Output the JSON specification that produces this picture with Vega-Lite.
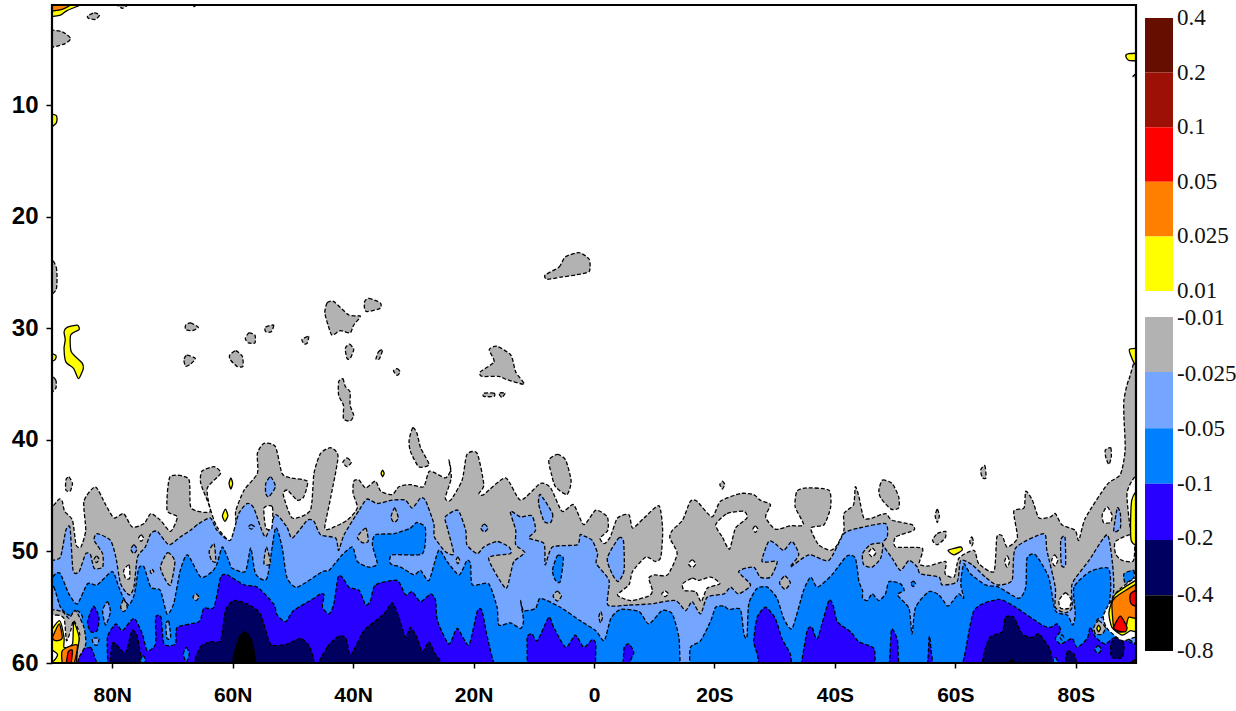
{"$schema":"https://vega.github.io/schema/vega-lite/v6.json","background":"white","padding":{"left":11,"top":3,"right":0,"bottom":0},"spacing":7,
"datasets":{
"frame":[{"a":90,"b":-90,"c":1,"d":60}],
"bar":[{"k":"brown","y0":0,"y1":1},{"k":"darkred","y0":1,"y1":2},{"k":"red","y0":2,"y1":3},{"k":"orange","y0":3,"y1":4},{"k":"yellow","y0":4,"y1":5},{"k":"gray","y0":5.476,"y1":6.48},{"k":"light","y0":6.48,"y1":7.51},{"k":"blue","y0":7.51,"y1":8.53},{"k":"violet","y0":8.53,"y1":9.56},{"k":"navy","y0":9.56,"y1":10.57},{"k":"black","y0":10.57,"y1":11.59}],
"barlabels":[{"pos":0,"t":"0.4"},{"pos":1,"t":"0.2"},{"pos":2,"t":"0.1"},{"pos":3,"t":"0.05"},{"pos":4,"t":"0.025"},{"pos":5,"t":"0.01"},{"pos":5.5,"t":"-0.01"},{"pos":6.52,"t":"-0.025"},{"pos":7.53,"t":"-0.05"},{"pos":8.53,"t":"-0.1"},{"pos":9.53,"t":"-0.2"},{"pos":10.57,"t":"-0.4"},{"pos":11.59,"t":"-0.8"}],
"neg":[
{"k":"gray","p":1,"lat":91,"lev":60.5},{"k":"gray","p":1,"lat":91,"lev":46.5},{"k":"gray","p":1,"lat":90.1,"lev":46.1},{"k":"gray","p":1,"lat":88.8,"lev":45.3},{"k":"gray","p":1,"lat":88.3,"lev":45.5},{"k":"gray","p":1,"lat":87.9,"lev":46.4},{"k":"gray","p":1,"lat":86.6,"lev":47.2},{"k":"gray","p":1,"lat":86.0,"lev":49.4},{"k":"gray","p":1,"lat":85.2,"lev":49.6},{"k":"gray","p":1,"lat":84.4,"lev":48.1},{"k":"gray","p":1,"lat":84.7,"lev":45.5},{"k":"gray","p":1,"lat":82.8,"lev":44.2},{"k":"gray","p":1,"lat":81.1,"lev":45.8},{"k":"gray","p":1,"lat":79.7,"lev":47.0},{"k":"gray","p":1,"lat":78.1,"lev":46.6},{"k":"gray","p":1,"lat":76.7,"lev":47.8},{"k":"gray","p":1,"lat":74.7,"lev":47.5},{"k":"gray","p":1,"lat":73.6,"lev":46.6},{"k":"gray","p":1,"lat":72.0,"lev":47.2},{"k":"gray","p":1,"lat":70.3,"lev":48.2},{"k":"gray","p":1,"lat":69.2,"lev":46.9},{"k":"gray","p":1,"lat":70.9,"lev":46.3},{"k":"gray","p":1,"lat":70.4,"lev":43.3},{"k":"gray","p":1,"lat":67.3,"lev":43.5},{"k":"gray","p":1,"lat":66.9,"lev":46.1},{"k":"gray","p":1,"lat":63.7,"lev":46.4},{"k":"gray","p":1,"lat":65.3,"lev":43.9},{"k":"gray","p":1,"lat":65.1,"lev":42.8},{"k":"gray","p":1,"lat":63.1,"lev":42.4},{"k":"gray","p":1,"lat":62.0,"lev":43.0},{"k":"gray","p":1,"lat":64.2,"lev":44.3},{"k":"gray","p":1,"lat":63.8,"lev":46.0},{"k":"gray","p":1,"lat":62.6,"lev":47.8},{"k":"gray","p":1,"lat":60.4,"lev":49.1},{"k":"gray","p":1,"lat":59.4,"lev":47.8},{"k":"gray","p":1,"lat":59.5,"lev":46.4},{"k":"gray","p":1,"lat":58.1,"lev":44.5},{"k":"gray","p":1,"lat":55.9,"lev":43.0},{"k":"gray","p":1,"lat":55.9,"lev":41.2},{"k":"gray","p":1,"lat":54.8,"lev":40.3},{"k":"gray","p":1,"lat":52.9,"lev":40.6},{"k":"gray","p":1,"lat":51.8,"lev":43.0},{"k":"gray","p":1,"lat":50.4,"lev":43.4},{"k":"gray","p":1,"lat":47.6,"lev":43.7},{"k":"gray","p":1,"lat":48.2,"lev":45.1},{"k":"gray","p":1,"lat":49.3,"lev":45.4},{"k":"gray","p":1,"lat":50.9,"lev":44.5},{"k":"gray","p":1,"lat":51.6,"lev":44.9},{"k":"gray","p":1,"lat":50.1,"lev":47.0},{"k":"gray","p":1,"lat":47.1,"lev":46.3},{"k":"gray","p":1,"lat":46.5,"lev":43.0},{"k":"gray","p":1,"lat":45.4,"lev":41.2},{"k":"gray","p":1,"lat":43.7,"lev":40.7},{"k":"gray","p":1,"lat":42.5,"lev":41.5},{"k":"gray","p":1,"lat":43.7,"lev":45.1},{"k":"gray","p":1,"lat":44.7,"lev":47.8},{"k":"gray","p":1,"lat":44.0,"lev":48.0},{"k":"gray","p":1,"lat":41.0,"lev":47.2},{"k":"gray","p":1,"lat":39.3,"lev":46.1},{"k":"gray","p":1,"lat":40.0,"lev":44.8},{"k":"gray","p":1,"lat":39.9,"lev":43.7},{"k":"gray","p":1,"lat":39.0,"lev":43.6},{"k":"gray","p":1,"lat":37.9,"lev":44.3},{"k":"gray","p":1,"lat":36.3,"lev":43.7},{"k":"gray","p":1,"lat":35.4,"lev":44.6},{"k":"gray","p":1,"lat":33.5,"lev":44.9},{"k":"gray","p":1,"lat":32.4,"lev":44.2},{"k":"gray","p":1,"lat":30.5,"lev":44.0},{"k":"gray","p":1,"lat":28.3,"lev":44.2},{"k":"gray","p":1,"lat":27.3,"lev":42.8},{"k":"gray","p":1,"lat":24.7,"lev":43.4},{"k":"gray","p":1,"lat":23.8,"lev":42.7},{"k":"gray","p":1,"lat":24.1,"lev":41.8},{"k":"gray","p":1,"lat":23.7,"lev":43.4},{"k":"gray","p":1,"lat":24.7,"lev":45.2},{"k":"gray","p":1,"lat":23.8,"lev":45.4},{"k":"gray","p":1,"lat":21.9,"lev":43.6},{"k":"gray","p":1,"lat":21.1,"lev":41.3},{"k":"gray","p":1,"lat":19.4,"lev":41.2},{"k":"gray","p":1,"lat":18.3,"lev":44.0},{"k":"gray","p":1,"lat":19.1,"lev":44.8},{"k":"gray","p":1,"lat":18.3,"lev":44.9},{"k":"gray","p":1,"lat":14.7,"lev":43.4},{"k":"gray","p":1,"lat":12.2,"lev":45.4},{"k":"gray","p":1,"lat":8.9,"lev":43.9},{"k":"gray","p":1,"lat":7.2,"lev":44.3},{"k":"gray","p":1,"lat":5.3,"lev":46.4},{"k":"gray","p":1,"lat":3.4,"lev":45.8},{"k":"gray","p":1,"lat":1.7,"lev":47.6},{"k":"gray","p":1,"lat":-0.3,"lev":46.3},{"k":"gray","p":1,"lat":-2.2,"lev":46.9},{"k":"gray","p":1,"lat":-2.3,"lev":48.1},{"k":"gray","p":1,"lat":-1.0,"lev":48.8},{"k":"gray","p":1,"lat":-1.7,"lev":49.3},{"k":"gray","p":1,"lat":-2.7,"lev":48.7},{"k":"gray","p":1,"lat":-3.9,"lev":47.0},{"k":"gray","p":1,"lat":-5.8,"lev":46.7},{"k":"gray","p":1,"lat":-6.4,"lev":47.9},{"k":"gray","p":1,"lat":-8.3,"lev":47.0},{"k":"gray","p":1,"lat":-10.8,"lev":45.9},{"k":"gray","p":1,"lat":-11.4,"lev":48.1},{"k":"gray","p":1,"lat":-11.1,"lev":50.5},{"k":"gray","p":1,"lat":-10.2,"lev":50.9},{"k":"gray","p":1,"lat":-8.6,"lev":50.5},{"k":"gray","p":1,"lat":-6.4,"lev":51.8},{"k":"gray","p":1,"lat":-5.8,"lev":53.0},{"k":"gray","p":1,"lat":-3.9,"lev":53.9},{"k":"gray","p":1,"lat":-6.1,"lev":54.4},{"k":"gray","p":1,"lat":-9.1,"lev":54.0},{"k":"gray","p":1,"lat":-9.7,"lev":53.5},{"k":"gray","p":1,"lat":-9.1,"lev":52.4},{"k":"gray","p":1,"lat":-10.0,"lev":52.1},{"k":"gray","p":1,"lat":-12.2,"lev":52.1},{"k":"gray","p":1,"lat":-13.8,"lev":50.2},{"k":"gray","p":1,"lat":-12.6,"lev":48.8},{"k":"gray","p":1,"lat":-13.0,"lev":48.1},{"k":"gray","p":1,"lat":-14.7,"lev":47.2},{"k":"gray","p":1,"lat":-16.0,"lev":45.5},{"k":"gray","p":1,"lat":-17.1,"lev":45.5},{"k":"gray","p":1,"lat":-19.6,"lev":46.9},{"k":"gray","p":1,"lat":-21.0,"lev":45.5},{"k":"gray","p":1,"lat":-24.3,"lev":44.8},{"k":"gray","p":1,"lat":-26.5,"lev":44.9},{"k":"gray","p":1,"lat":-27.6,"lev":45.4},{"k":"gray","p":1,"lat":-29.3,"lev":45.8},{"k":"gray","p":1,"lat":-28.5,"lev":46.9},{"k":"gray","p":1,"lat":-30.1,"lev":48.0},{"k":"gray","p":1,"lat":-32.6,"lev":47.7},{"k":"gray","p":1,"lat":-34.8,"lev":47.6},{"k":"gray","p":1,"lat":-33.4,"lev":46.0},{"k":"gray","p":1,"lat":-33.7,"lev":44.6},{"k":"gray","p":1,"lat":-35.4,"lev":44.3},{"k":"gray","p":1,"lat":-39.0,"lev":44.5},{"k":"gray","p":1,"lat":-39.3,"lev":46.0},{"k":"gray","p":1,"lat":-38.2,"lev":47.6},{"k":"gray","p":1,"lat":-36.0,"lev":47.9},{"k":"gray","p":1,"lat":-37.3,"lev":49.4},{"k":"gray","p":1,"lat":-39.3,"lev":49.9},{"k":"gray","p":1,"lat":-40.4,"lev":49.4},{"k":"gray","p":1,"lat":-41.5,"lev":48.1},{"k":"gray","p":1,"lat":-41.5,"lev":46.6},{"k":"gray","p":1,"lat":-43.1,"lev":45.8},{"k":"gray","p":1,"lat":-43.4,"lev":44.2},{"k":"gray","p":1,"lat":-44.0,"lev":45.1},{"k":"gray","p":1,"lat":-44.8,"lev":47.0},{"k":"gray","p":1,"lat":-46.2,"lev":47.0},{"k":"gray","p":1,"lat":-48.4,"lev":46.6},{"k":"gray","p":1,"lat":-49.5,"lev":47.2},{"k":"gray","p":1,"lat":-52.8,"lev":47.6},{"k":"gray","p":1,"lat":-53.1,"lev":48.1},{"k":"gray","p":1,"lat":-50.1,"lev":48.7},{"k":"gray","p":1,"lat":-50.1,"lev":49.6},{"k":"gray","p":1,"lat":-54.5,"lev":49.7},{"k":"gray","p":1,"lat":-54.0,"lev":51.1},{"k":"gray","p":1,"lat":-55.6,"lev":51.3},{"k":"gray","p":1,"lat":-58.4,"lev":50.9},{"k":"gray","p":1,"lat":-58.3,"lev":52.0},{"k":"gray","p":1,"lat":-59.8,"lev":52.3},{"k":"gray","p":1,"lat":-60.6,"lev":50.6},{"k":"gray","p":1,"lat":-63.1,"lev":49.9},{"k":"gray","p":1,"lat":-63.9,"lev":51.1},{"k":"gray","p":1,"lat":-66.4,"lev":51.8},{"k":"gray","p":1,"lat":-66.9,"lev":48.7},{"k":"gray","p":1,"lat":-67.8,"lev":48.6},{"k":"gray","p":1,"lat":-68.6,"lev":49.6},{"k":"gray","p":1,"lat":-70.3,"lev":48.8},{"k":"gray","p":1,"lat":-69.7,"lev":46.4},{"k":"gray","p":1,"lat":-71.4,"lev":46.1},{"k":"gray","p":1,"lat":-71.7,"lev":44.6},{"k":"gray","p":1,"lat":-72.8,"lev":45.4},{"k":"gray","p":1,"lat":-73.9,"lev":47.0},{"k":"gray","p":1,"lat":-75.8,"lev":46.9},{"k":"gray","p":1,"lat":-76.6,"lev":46.6},{"k":"gray","p":1,"lat":-77.7,"lev":47.6},{"k":"gray","p":1,"lat":-79.9,"lev":48.1},{"k":"gray","p":1,"lat":-80.5,"lev":49.0},{"k":"gray","p":1,"lat":-81.6,"lev":47.0},{"k":"gray","p":1,"lat":-85.2,"lev":44.0},{"k":"gray","p":1,"lat":-87.4,"lev":43.1},{"k":"gray","p":1,"lat":-88.2,"lev":40.9},{"k":"gray","p":1,"lat":-88.0,"lev":38.0},{"k":"gray","p":1,"lat":-88.0,"lev":36.4},{"k":"gray","p":1,"lat":-88.8,"lev":34.6},{"k":"gray","p":1,"lat":-91,"lev":33.0},{"k":"gray","p":1,"lat":-91,"lev":60.5},
{"k":"light","p":2,"lat":91,"lev":60.5},{"k":"light","p":2,"lat":91,"lev":50.8},{"k":"light","p":2,"lat":90.1,"lev":50.8},{"k":"light","p":2,"lat":88.6,"lev":50.5},{"k":"light","p":2,"lat":87.7,"lev":48.1},{"k":"light","p":2,"lat":87.0,"lev":47.9},{"k":"light","p":2,"lat":86.5,"lev":51.7},{"k":"light","p":2,"lat":85.5,"lev":51.8},{"k":"light","p":2,"lat":84.4,"lev":50.2},{"k":"light","p":2,"lat":83.6,"lev":50.3},{"k":"light","p":2,"lat":83.0,"lev":51.5},{"k":"light","p":2,"lat":81.6,"lev":51.4},{"k":"light","p":2,"lat":81.6,"lev":50.2},{"k":"light","p":2,"lat":83.0,"lev":49.0},{"k":"light","p":2,"lat":82.5,"lev":48.4},{"k":"light","p":2,"lat":80.3,"lev":49.0},{"k":"light","p":2,"lat":79.4,"lev":50.5},{"k":"light","p":2,"lat":78.6,"lev":52.9},{"k":"light","p":2,"lat":77.2,"lev":53.9},{"k":"light","p":2,"lat":76.4,"lev":53.2},{"k":"light","p":2,"lat":75.8,"lev":50.5},{"k":"light","p":2,"lat":74.5,"lev":49.6},{"k":"light","p":2,"lat":73.6,"lev":48.4},{"k":"light","p":2,"lat":72.5,"lev":48.2},{"k":"light","p":2,"lat":70.6,"lev":49.4},{"k":"light","p":2,"lat":68.7,"lev":48.7},{"k":"light","p":2,"lat":67.0,"lev":48.1},{"k":"light","p":2,"lat":65.6,"lev":47.5},{"k":"light","p":2,"lat":63.7,"lev":47.0},{"k":"light","p":2,"lat":62.6,"lev":48.1},{"k":"light","p":2,"lat":60.4,"lev":49.0},{"k":"light","p":2,"lat":59.0,"lev":46.6},{"k":"light","p":2,"lat":57.6,"lev":45.7},{"k":"light","p":2,"lat":56.5,"lev":46.1},{"k":"light","p":2,"lat":54.6,"lev":48.7},{"k":"light","p":2,"lat":52.9,"lev":46.7},{"k":"light","p":2,"lat":51.0,"lev":47.8},{"k":"light","p":2,"lat":50.1,"lev":48.8},{"k":"light","p":2,"lat":47.6,"lev":47.2},{"k":"light","p":2,"lat":46.5,"lev":47.3},{"k":"light","p":2,"lat":45.4,"lev":48.5},{"k":"light","p":2,"lat":42.9,"lev":48.8},{"k":"light","p":2,"lat":42.4,"lev":49.9},{"k":"light","p":2,"lat":41.5,"lev":48.5},{"k":"light","p":2,"lat":39.0,"lev":46.3},{"k":"light","p":2,"lat":37.7,"lev":45.3},{"k":"light","p":2,"lat":36.0,"lev":45.7},{"k":"light","p":2,"lat":33.5,"lev":45.4},{"k":"light","p":2,"lat":31.3,"lev":45.4},{"k":"light","p":2,"lat":30.2,"lev":46.1},{"k":"light","p":2,"lat":28.8,"lev":45.2},{"k":"light","p":2,"lat":28.0,"lev":45.4},{"k":"light","p":2,"lat":26.6,"lev":47.5},{"k":"light","p":2,"lat":26.5,"lev":48.7},{"k":"light","p":2,"lat":24.7,"lev":50.0},{"k":"light","p":2,"lat":23.3,"lev":50.2},{"k":"light","p":2,"lat":24.4,"lev":47.8},{"k":"light","p":2,"lat":24.7,"lev":46.9},{"k":"light","p":2,"lat":22.6,"lev":46.3},{"k":"light","p":2,"lat":21.3,"lev":48.1},{"k":"light","p":2,"lat":21.1,"lev":49.4},{"k":"light","p":2,"lat":19.4,"lev":50.2},{"k":"light","p":2,"lat":18.3,"lev":49.6},{"k":"light","p":2,"lat":16.1,"lev":49.1},{"k":"light","p":2,"lat":14.1,"lev":49.6},{"k":"light","p":2,"lat":13.9,"lev":50.2},{"k":"light","p":2,"lat":17.5,"lev":50.6},{"k":"light","p":2,"lat":14.7,"lev":53.3},{"k":"light","p":2,"lat":13.9,"lev":52.1},{"k":"light","p":2,"lat":13.3,"lev":50.9},{"k":"light","p":2,"lat":11.5,"lev":50.1},{"k":"light","p":2,"lat":13.0,"lev":49.4},{"k":"light","p":2,"lat":13.0,"lev":48.1},{"k":"light","p":2,"lat":13.9,"lev":46.4},{"k":"light","p":2,"lat":12.2,"lev":46.9},{"k":"light","p":2,"lat":10.3,"lev":46.8},{"k":"light","p":2,"lat":9.7,"lev":48.1},{"k":"light","p":2,"lat":10.8,"lev":48.8},{"k":"light","p":2,"lat":8.3,"lev":49.3},{"k":"light","p":2,"lat":8.1,"lev":51.2},{"k":"light","p":2,"lat":6.9,"lev":49.6},{"k":"light","p":2,"lat":2.8,"lev":49.4},{"k":"light","p":2,"lat":2.3,"lev":48.5},{"k":"light","p":2,"lat":1.7,"lev":48.6},{"k":"light","p":2,"lat":0.3,"lev":49.0},{"k":"light","p":2,"lat":-0.6,"lev":50.2},{"k":"light","p":2,"lat":-0.4,"lev":51.1},{"k":"light","p":2,"lat":-2.5,"lev":52.6},{"k":"light","p":2,"lat":-2.3,"lev":54.8},{"k":"light","p":2,"lat":-5.8,"lev":54.8},{"k":"light","p":2,"lat":-9.4,"lev":54.7},{"k":"light","p":2,"lat":-13.5,"lev":54.4},{"k":"light","p":2,"lat":-15.2,"lev":55.3},{"k":"light","p":2,"lat":-16.3,"lev":54.5},{"k":"light","p":2,"lat":-17.7,"lev":55.6},{"k":"light","p":2,"lat":-18.8,"lev":54.1},{"k":"light","p":2,"lat":-21.6,"lev":53.8},{"k":"light","p":2,"lat":-22.7,"lev":53.2},{"k":"light","p":2,"lat":-24.0,"lev":53.8},{"k":"light","p":2,"lat":-26.0,"lev":53.0},{"k":"light","p":2,"lat":-24.0,"lev":51.8},{"k":"light","p":2,"lat":-26.5,"lev":51.4},{"k":"light","p":2,"lat":-27.6,"lev":52.3},{"k":"light","p":2,"lat":-29.3,"lev":52.3},{"k":"light","p":2,"lat":-30.4,"lev":50.9},{"k":"light","p":2,"lat":-27.9,"lev":50.9},{"k":"light","p":2,"lat":-29.0,"lev":49.1},{"k":"light","p":2,"lat":-30.1,"lev":49.3},{"k":"light","p":2,"lat":-31.5,"lev":49.9},{"k":"light","p":2,"lat":-32.9,"lev":49.1},{"k":"light","p":2,"lat":-34.0,"lev":50.3},{"k":"light","p":2,"lat":-32.6,"lev":51.4},{"k":"light","p":2,"lat":-35.7,"lev":50.3},{"k":"light","p":2,"lat":-39.0,"lev":50.8},{"k":"light","p":2,"lat":-41.5,"lev":48.4},{"k":"light","p":2,"lat":-44.0,"lev":47.9},{"k":"light","p":2,"lat":-48.4,"lev":47.5},{"k":"light","p":2,"lat":-48.7,"lev":48.7},{"k":"light","p":2,"lat":-47.9,"lev":49.3},{"k":"light","p":2,"lat":-49.5,"lev":50.6},{"k":"light","p":2,"lat":-50.9,"lev":51.7},{"k":"light","p":2,"lat":-52.3,"lev":50.8},{"k":"light","p":2,"lat":-53.7,"lev":51.4},{"k":"light","p":2,"lat":-54.2,"lev":52.0},{"k":"light","p":2,"lat":-57.3,"lev":52.3},{"k":"light","p":2,"lat":-57.8,"lev":53.0},{"k":"light","p":2,"lat":-60.3,"lev":52.7},{"k":"light","p":2,"lat":-60.9,"lev":50.8},{"k":"light","p":2,"lat":-62.8,"lev":51.2},{"k":"light","p":2,"lat":-65.0,"lev":52.3},{"k":"light","p":2,"lat":-66.9,"lev":53.0},{"k":"light","p":2,"lat":-69.4,"lev":52.6},{"k":"light","p":2,"lat":-70.0,"lev":49.7},{"k":"light","p":2,"lat":-74.7,"lev":48.4},{"k":"light","p":2,"lat":-75.2,"lev":49.9},{"k":"light","p":2,"lat":-76.6,"lev":53.2},{"k":"light","p":2,"lat":-76.6,"lev":55.0},{"k":"light","p":2,"lat":-78.3,"lev":55.5},{"k":"light","p":2,"lat":-79.4,"lev":55.0},{"k":"light","p":2,"lat":-79.4,"lev":52.9},{"k":"light","p":2,"lat":-82.2,"lev":50.8},{"k":"light","p":2,"lat":-85.2,"lev":48.5},{"k":"light","p":2,"lat":-86.1,"lev":51.1},{"k":"light","p":2,"lat":-86.3,"lev":53.5},{"k":"light","p":2,"lat":-85.5,"lev":56.0},{"k":"light","p":2,"lat":-85.5,"lev":60.5},
{"k":"blue","p":3,"lat":91,"lev":60.5},{"k":"blue","p":3,"lat":91,"lev":52.5},{"k":"blue","p":3,"lat":90.1,"lev":52.4},{"k":"blue","p":3,"lat":89.4,"lev":52.0},{"k":"blue","p":3,"lat":88.6,"lev":52.0},{"k":"blue","p":3,"lat":87.2,"lev":53.8},{"k":"blue","p":3,"lat":85.8,"lev":54.7},{"k":"blue","p":3,"lat":84.1,"lev":52.9},{"k":"blue","p":3,"lat":82.5,"lev":53.0},{"k":"blue","p":3,"lat":80.0,"lev":51.8},{"k":"blue","p":3,"lat":78.9,"lev":53.2},{"k":"blue","p":3,"lat":78.1,"lev":54.2},{"k":"blue","p":3,"lat":77.2,"lev":54.8},{"k":"blue","p":3,"lat":76.3,"lev":53.8},{"k":"blue","p":3,"lat":75.6,"lev":51.5},{"k":"blue","p":3,"lat":74.7,"lev":51.4},{"k":"blue","p":3,"lat":73.6,"lev":53.2},{"k":"blue","p":3,"lat":72.0,"lev":53.5},{"k":"blue","p":3,"lat":70.9,"lev":55.6},{"k":"blue","p":3,"lat":69.8,"lev":54.7},{"k":"blue","p":3,"lat":68.7,"lev":51.7},{"k":"blue","p":3,"lat":67.5,"lev":50.3},{"k":"blue","p":3,"lat":65.3,"lev":52.3},{"k":"blue","p":3,"lat":63.4,"lev":51.8},{"k":"blue","p":3,"lat":62.6,"lev":51.1},{"k":"blue","p":3,"lat":61.7,"lev":49.6},{"k":"blue","p":3,"lat":60.6,"lev":50.9},{"k":"blue","p":3,"lat":60.1,"lev":51.5},{"k":"blue","p":3,"lat":57.9,"lev":51.8},{"k":"blue","p":3,"lat":57.0,"lev":49.7},{"k":"blue","p":3,"lat":56.2,"lev":52.0},{"k":"blue","p":3,"lat":54.3,"lev":52.4},{"k":"blue","p":3,"lat":52.9,"lev":47.9},{"k":"blue","p":3,"lat":51.8,"lev":49.6},{"k":"blue","p":3,"lat":51.0,"lev":52.3},{"k":"blue","p":3,"lat":49.3,"lev":53.2},{"k":"blue","p":3,"lat":45.1,"lev":51.8},{"k":"blue","p":3,"lat":44.0,"lev":51.7},{"k":"blue","p":3,"lat":41.8,"lev":50.3},{"k":"blue","p":3,"lat":40.1,"lev":49.6},{"k":"blue","p":3,"lat":39.3,"lev":50.9},{"k":"blue","p":3,"lat":37.4,"lev":51.4},{"k":"blue","p":3,"lat":36.0,"lev":51.1},{"k":"blue","p":3,"lat":36.8,"lev":49.4},{"k":"blue","p":3,"lat":36.3,"lev":48.5},{"k":"blue","p":3,"lat":33.2,"lev":48.4},{"k":"blue","p":3,"lat":30.5,"lev":47.9},{"k":"blue","p":3,"lat":29.4,"lev":47.4},{"k":"blue","p":3,"lat":28.0,"lev":47.9},{"k":"blue","p":3,"lat":28.5,"lev":50.2},{"k":"blue","p":3,"lat":33.5,"lev":50.3},{"k":"blue","p":3,"lat":33.8,"lev":51.1},{"k":"blue","p":3,"lat":32.1,"lev":51.4},{"k":"blue","p":3,"lat":29.9,"lev":52.1},{"k":"blue","p":3,"lat":28.8,"lev":51.7},{"k":"blue","p":3,"lat":27.4,"lev":52.6},{"k":"blue","p":3,"lat":25.8,"lev":49.9},{"k":"blue","p":3,"lat":24.4,"lev":50.9},{"k":"blue","p":3,"lat":22.4,"lev":52.1},{"k":"blue","p":3,"lat":21.1,"lev":50.8},{"k":"blue","p":3,"lat":20.5,"lev":51.1},{"k":"blue","p":3,"lat":20.2,"lev":53.0},{"k":"blue","p":3,"lat":17.5,"lev":52.9},{"k":"blue","p":3,"lat":16.1,"lev":55.0},{"k":"blue","p":3,"lat":15.8,"lev":56.6},{"k":"blue","p":3,"lat":13.9,"lev":56.4},{"k":"blue","p":3,"lat":12.2,"lev":56.9},{"k":"blue","p":3,"lat":11.7,"lev":56.2},{"k":"blue","p":3,"lat":12.2,"lev":54.4},{"k":"blue","p":3,"lat":11.7,"lev":55.3},{"k":"blue","p":3,"lat":9.7,"lev":55.1},{"k":"blue","p":3,"lat":8.9,"lev":54.2},{"k":"blue","p":3,"lat":5.6,"lev":55.0},{"k":"blue","p":3,"lat":2.3,"lev":56.2},{"k":"blue","p":3,"lat":-0.3,"lev":57.1},{"k":"blue","p":3,"lat":-1.7,"lev":58.0},{"k":"blue","p":3,"lat":-2.8,"lev":56.0},{"k":"blue","p":3,"lat":-4.4,"lev":55.2},{"k":"blue","p":3,"lat":-7.5,"lev":55.4},{"k":"blue","p":3,"lat":-9.1,"lev":56.5},{"k":"blue","p":3,"lat":-11.3,"lev":55.3},{"k":"blue","p":3,"lat":-13.0,"lev":55.6},{"k":"blue","p":3,"lat":-14.1,"lev":57.7},{"k":"blue","p":3,"lat":-14.4,"lev":60.5},{"k":"blue","p":3,"lat":-15.8,"lev":60.5},{"k":"blue","p":3,"lat":-16.0,"lev":58.6},{"k":"blue","p":3,"lat":-17.7,"lev":58.0},{"k":"blue","p":3,"lat":-19.4,"lev":56.2},{"k":"blue","p":3,"lat":-20.2,"lev":55.0},{"k":"blue","p":3,"lat":-21.6,"lev":54.9},{"k":"blue","p":3,"lat":-22.4,"lev":55.2},{"k":"blue","p":3,"lat":-24.3,"lev":55.2},{"k":"blue","p":3,"lat":-24.9,"lev":57.4},{"k":"blue","p":3,"lat":-25.4,"lev":57.7},{"k":"blue","p":3,"lat":-25.7,"lev":54.7},{"k":"blue","p":3,"lat":-27.1,"lev":53.3},{"k":"blue","p":3,"lat":-28.8,"lev":53.2},{"k":"blue","p":3,"lat":-30.4,"lev":54.2},{"k":"blue","p":3,"lat":-31.5,"lev":56.0},{"k":"blue","p":3,"lat":-32.9,"lev":56.9},{"k":"blue","p":3,"lat":-34.8,"lev":53.5},{"k":"blue","p":3,"lat":-36.0,"lev":52.3},{"k":"blue","p":3,"lat":-37.1,"lev":53.2},{"k":"blue","p":3,"lat":-39.5,"lev":52.1},{"k":"blue","p":3,"lat":-42.0,"lev":50.4},{"k":"blue","p":3,"lat":-43.4,"lev":50.6},{"k":"blue","p":3,"lat":-44.0,"lev":52.7},{"k":"blue","p":3,"lat":-44.6,"lev":53.5},{"k":"blue","p":3,"lat":-44.6,"lev":54.2},{"k":"blue","p":3,"lat":-45.4,"lev":54.4},{"k":"blue","p":3,"lat":-46.2,"lev":53.8},{"k":"blue","p":3,"lat":-47.3,"lev":54.4},{"k":"blue","p":3,"lat":-48.4,"lev":53.8},{"k":"blue","p":3,"lat":-49.0,"lev":52.7},{"k":"blue","p":3,"lat":-50.9,"lev":52.9},{"k":"blue","p":3,"lat":-51.5,"lev":53.5},{"k":"blue","p":3,"lat":-50.4,"lev":53.9},{"k":"blue","p":3,"lat":-52.3,"lev":55.1},{"k":"blue","p":3,"lat":-52.8,"lev":57.4},{"k":"blue","p":3,"lat":-53.4,"lev":55.0},{"k":"blue","p":3,"lat":-55.6,"lev":53.6},{"k":"blue","p":3,"lat":-57.3,"lev":53.9},{"k":"blue","p":3,"lat":-58.7,"lev":54.9},{"k":"blue","p":3,"lat":-59.5,"lev":54.5},{"k":"blue","p":3,"lat":-60.6,"lev":53.8},{"k":"blue","p":3,"lat":-61.4,"lev":54.2},{"k":"blue","p":3,"lat":-60.9,"lev":52.9},{"k":"blue","p":3,"lat":-61.4,"lev":51.1},{"k":"blue","p":3,"lat":-62.5,"lev":52.0},{"k":"blue","p":3,"lat":-65.0,"lev":53.0},{"k":"blue","p":3,"lat":-67.2,"lev":53.2},{"k":"blue","p":3,"lat":-70.5,"lev":54.2},{"k":"blue","p":3,"lat":-71.7,"lev":53.2},{"k":"blue","p":3,"lat":-71.9,"lev":50.6},{"k":"blue","p":3,"lat":-73.3,"lev":50.3},{"k":"blue","p":3,"lat":-75.5,"lev":52.3},{"k":"blue","p":3,"lat":-76.6,"lev":55.3},{"k":"blue","p":3,"lat":-78.6,"lev":55.7},{"k":"blue","p":3,"lat":-79.5,"lev":56.6},{"k":"blue","p":3,"lat":-79.9,"lev":55.6},{"k":"blue","p":3,"lat":-79.7,"lev":53.2},{"k":"blue","p":3,"lat":-82.4,"lev":51.8},{"k":"blue","p":3,"lat":-85.4,"lev":51.5},{"k":"blue","p":3,"lat":-85.8,"lev":53.3},{"k":"blue","p":3,"lat":-85.2,"lev":55.7},{"k":"blue","p":3,"lat":-83.4,"lev":56.3},{"k":"blue","p":3,"lat":-83.4,"lev":60.5},
{"k":"violet","p":4,"lat":85.2,"lev":60.5},{"k":"violet","p":4,"lat":83.6,"lev":58.6},{"k":"violet","p":4,"lat":82.2,"lev":60.5},{"k":"violet","p":4,"lat":80.8,"lev":60.5},{"k":"violet","p":4,"lat":80.8,"lev":57.7},{"k":"violet","p":4,"lat":79.4,"lev":56.5},{"k":"violet","p":4,"lat":78.3,"lev":57.1},{"k":"violet","p":4,"lat":76.4,"lev":56.0},{"k":"violet","p":4,"lat":75.0,"lev":57.4},{"k":"violet","p":4,"lat":74.2,"lev":58.9},{"k":"violet","p":4,"lat":72.8,"lev":58.3},{"k":"violet","p":4,"lat":72.8,"lev":55.9},{"k":"violet","p":4,"lat":71.9,"lev":55.9},{"k":"violet","p":4,"lat":71.4,"lev":58.3},{"k":"violet","p":4,"lat":69.5,"lev":58.3},{"k":"violet","p":4,"lat":69.2,"lev":56.8},{"k":"violet","p":4,"lat":65.6,"lev":56.3},{"k":"violet","p":4,"lat":64.8,"lev":55.1},{"k":"violet","p":4,"lat":63.1,"lev":55.0},{"k":"violet","p":4,"lat":62.0,"lev":52.3},{"k":"violet","p":4,"lat":60.9,"lev":52.1},{"k":"violet","p":4,"lat":58.1,"lev":53.0},{"k":"violet","p":4,"lat":55.9,"lev":53.2},{"k":"violet","p":4,"lat":53.2,"lev":54.7},{"k":"violet","p":4,"lat":52.6,"lev":55.7},{"k":"violet","p":4,"lat":51.2,"lev":56.3},{"k":"violet","p":4,"lat":49.9,"lev":55.3},{"k":"violet","p":4,"lat":46.5,"lev":54.2},{"k":"violet","p":4,"lat":45.4,"lev":53.8},{"k":"violet","p":4,"lat":44.8,"lev":53.9},{"k":"violet","p":4,"lat":45.1,"lev":55.0},{"k":"violet","p":4,"lat":44.0,"lev":55.6},{"k":"violet","p":4,"lat":43.2,"lev":54.7},{"k":"violet","p":4,"lat":42.5,"lev":52.3},{"k":"violet","p":4,"lat":41.8,"lev":52.3},{"k":"violet","p":4,"lat":40.7,"lev":53.2},{"k":"violet","p":4,"lat":39.0,"lev":53.5},{"k":"violet","p":4,"lat":37.9,"lev":54.8},{"k":"violet","p":4,"lat":37.1,"lev":54.4},{"k":"violet","p":4,"lat":36.3,"lev":53.0},{"k":"violet","p":4,"lat":32.7,"lev":52.6},{"k":"violet","p":4,"lat":31.3,"lev":53.9},{"k":"violet","p":4,"lat":30.2,"lev":53.6},{"k":"violet","p":4,"lat":28.8,"lev":54.5},{"k":"violet","p":4,"lat":27.1,"lev":53.8},{"k":"violet","p":4,"lat":26.3,"lev":54.4},{"k":"violet","p":4,"lat":26.0,"lev":56.2},{"k":"violet","p":4,"lat":24.1,"lev":58.3},{"k":"violet","p":4,"lat":22.7,"lev":56.9},{"k":"violet","p":4,"lat":20.8,"lev":58.4},{"k":"violet","p":4,"lat":19.4,"lev":55.4},{"k":"violet","p":4,"lat":18.6,"lev":55.3},{"k":"violet","p":4,"lat":17.7,"lev":57.7},{"k":"violet","p":4,"lat":16.1,"lev":60.5},{"k":"violet","p":4,"lat":11.4,"lev":60.5},{"k":"violet","p":4,"lat":11.1,"lev":57.7},{"k":"violet","p":4,"lat":10.3,"lev":57.4},{"k":"violet","p":4,"lat":9.4,"lev":58.0},{"k":"violet","p":4,"lat":7.5,"lev":55.9},{"k":"violet","p":4,"lat":6.7,"lev":56.8},{"k":"violet","p":4,"lat":4.7,"lev":58.6},{"k":"violet","p":4,"lat":3.1,"lev":57.5},{"k":"violet","p":4,"lat":1.7,"lev":58.6},{"k":"violet","p":4,"lat":0.3,"lev":57.9},{"k":"violet","p":4,"lat":-0.3,"lev":58.3},{"k":"violet","p":4,"lat":-0.5,"lev":60.5},{"k":"violet","p":4,"lat":-4.5,"lev":60.5},{"k":"violet","p":4,"lat":-5.0,"lev":58.6},{"k":"violet","p":4,"lat":-5.8,"lev":58.3},{"k":"violet","p":4,"lat":-6.6,"lev":59.0},{"k":"violet","p":4,"lat":-7.1,"lev":60.5},{"k":"violet","p":4,"lat":-26.3,"lev":60.5},{"k":"violet","p":4,"lat":-26.5,"lev":58.0},{"k":"violet","p":4,"lat":-27.1,"lev":55.9},{"k":"violet","p":4,"lat":-28.5,"lev":55.0},{"k":"violet","p":4,"lat":-30.1,"lev":56.0},{"k":"violet","p":4,"lat":-31.2,"lev":57.8},{"k":"violet","p":4,"lat":-32.6,"lev":59.2},{"k":"violet","p":4,"lat":-32.9,"lev":60.5},{"k":"violet","p":4,"lat":-34.2,"lev":60.5},{"k":"violet","p":4,"lat":-35.4,"lev":57.1},{"k":"violet","p":4,"lat":-36.2,"lev":56.8},{"k":"violet","p":4,"lat":-37.1,"lev":57.8},{"k":"violet","p":4,"lat":-39.0,"lev":54.4},{"k":"violet","p":4,"lat":-39.8,"lev":55.0},{"k":"violet","p":4,"lat":-40.4,"lev":56.3},{"k":"violet","p":4,"lat":-42.6,"lev":57.2},{"k":"violet","p":4,"lat":-44.0,"lev":58.1},{"k":"violet","p":4,"lat":-46.5,"lev":58.7},{"k":"violet","p":4,"lat":-46.8,"lev":60.5},{"k":"violet","p":4,"lat":-48.9,"lev":60.5},{"k":"violet","p":4,"lat":-49.4,"lev":57.0},{"k":"violet","p":4,"lat":-50.4,"lev":58.0},{"k":"violet","p":4,"lat":-50.9,"lev":60.5},{"k":"violet","p":4,"lat":-55.1,"lev":60.5},{"k":"violet","p":4,"lat":-55.7,"lev":57.6},{"k":"violet","p":4,"lat":-56.6,"lev":60.5},{"k":"violet","p":4,"lat":-60.9,"lev":60.5},{"k":"violet","p":4,"lat":-63.1,"lev":55.3},{"k":"violet","p":4,"lat":-67.2,"lev":54.3},{"k":"violet","p":4,"lat":-70.0,"lev":55.0},{"k":"violet","p":4,"lat":-74.4,"lev":56.6},{"k":"violet","p":4,"lat":-75.8,"lev":56.8},{"k":"violet","p":4,"lat":-76.9,"lev":56.5},{"k":"violet","p":4,"lat":-77.5,"lev":57.1},{"k":"violet","p":4,"lat":-76.6,"lev":57.8},{"k":"violet","p":4,"lat":-77.5,"lev":58.3},{"k":"violet","p":4,"lat":-79.4,"lev":57.8},{"k":"violet","p":4,"lat":-80.2,"lev":58.6},{"k":"violet","p":4,"lat":-81.9,"lev":57.8},{"k":"violet","p":4,"lat":-82.4,"lev":56.8},{"k":"violet","p":4,"lat":-83.3,"lev":57.7},{"k":"violet","p":4,"lat":-84.9,"lev":58.3},{"k":"violet","p":4,"lat":-86.6,"lev":57.7},{"k":"violet","p":4,"lat":-89.8,"lev":58.3},{"k":"violet","p":4,"lat":-91,"lev":58.3},{"k":"violet","p":4,"lat":-91,"lev":60.5},
{"k":"violet","p":5,"lat":84.1,"lev":56.3},{"k":"violet","p":5,"lat":83.1,"lev":54.9},{"k":"violet","p":5,"lat":82.2,"lev":55.9},{"k":"violet","p":5,"lat":82.5,"lev":57.1},{"k":"violet","p":5,"lat":83.6,"lev":57.2},
{"k":"navy","p":6,"lat":80.1,"lev":60.5},{"k":"navy","p":6,"lat":80.0,"lev":58.3},{"k":"navy","p":6,"lat":79.4,"lev":58.3},{"k":"navy","p":6,"lat":77.8,"lev":59.1},{"k":"navy","p":6,"lat":76.7,"lev":57.1},{"k":"navy","p":6,"lat":75.8,"lev":57.7},{"k":"navy","p":6,"lat":75.3,"lev":60.5},
{"k":"navy","p":7,"lat":65.4,"lev":60.5},{"k":"navy","p":7,"lat":65.4,"lev":58.6},{"k":"navy","p":7,"lat":63.7,"lev":58.1},{"k":"navy","p":7,"lat":62.0,"lev":58.0},{"k":"navy","p":7,"lat":61.2,"lev":55.3},{"k":"navy","p":7,"lat":59.8,"lev":54.4},{"k":"navy","p":7,"lat":57.6,"lev":54.7},{"k":"navy","p":7,"lat":55.4,"lev":55.6},{"k":"navy","p":7,"lat":53.7,"lev":58.3},{"k":"navy","p":7,"lat":51.0,"lev":58.3},{"k":"navy","p":7,"lat":48.7,"lev":57.8},{"k":"navy","p":7,"lat":47.1,"lev":58.7},{"k":"navy","p":7,"lat":47.6,"lev":60.5},
{"k":"navy","p":8,"lat":44.8,"lev":60.5},{"k":"navy","p":8,"lat":44.3,"lev":58.6},{"k":"navy","p":8,"lat":42.4,"lev":57.6},{"k":"navy","p":8,"lat":41.2,"lev":57.8},{"k":"navy","p":8,"lat":40.4,"lev":59.3},{"k":"navy","p":8,"lat":38.2,"lev":57.1},{"k":"navy","p":8,"lat":34.9,"lev":55.6},{"k":"navy","p":8,"lat":33.5,"lev":54.6},{"k":"navy","p":8,"lat":32.4,"lev":55.9},{"k":"navy","p":8,"lat":31.3,"lev":57.7},{"k":"navy","p":8,"lat":30.5,"lev":56.8},{"k":"navy","p":8,"lat":29.4,"lev":57.7},{"k":"navy","p":8,"lat":28.5,"lev":59.0},{"k":"navy","p":8,"lat":27.4,"lev":58.1},{"k":"navy","p":8,"lat":26.6,"lev":59.0},{"k":"navy","p":8,"lat":26.1,"lev":60.5},
{"k":"navy","p":9,"lat":-64.9,"lev":60.5},{"k":"navy","p":9,"lat":-65.6,"lev":57.8},{"k":"navy","p":9,"lat":-67.8,"lev":57.2},{"k":"navy","p":9,"lat":-68.3,"lev":55.9},{"k":"navy","p":9,"lat":-69.7,"lev":55.9},{"k":"navy","p":9,"lat":-71.1,"lev":57.4},{"k":"navy","p":9,"lat":-72.8,"lev":57.7},{"k":"navy","p":9,"lat":-73.9,"lev":57.4},{"k":"navy","p":9,"lat":-75.8,"lev":58.9},{"k":"navy","p":9,"lat":-75.2,"lev":60.5},
{"k":"navy","p":10,"lat":-78.3,"lev":60.5},{"k":"navy","p":10,"lat":-78.6,"lev":59.0},{"k":"navy","p":10,"lat":-79.7,"lev":59.2},{"k":"navy","p":10,"lat":-80.2,"lev":60.5},
{"k":"navy","p":11,"lat":-85.8,"lev":58.3},{"k":"navy","p":11,"lat":-86.9,"lev":57.7},{"k":"navy","p":11,"lat":-88.0,"lev":58.3},{"k":"navy","p":11,"lat":-87.7,"lev":59.5},{"k":"navy","p":11,"lat":-86.0,"lev":59.5},
{"k":"black","p":12,"lat":60.1,"lev":60.5},{"k":"black","p":12,"lat":59.0,"lev":57.8},{"k":"black","p":12,"lat":57.9,"lev":57.2},{"k":"black","p":12,"lat":56.8,"lev":58.0},{"k":"black","p":12,"lat":56.2,"lev":60.5},
{"k":"black","p":13,"lat":-68.3,"lev":60.5},{"k":"black","p":13,"lat":-69.4,"lev":59.7},{"k":"black","p":13,"lat":-70.3,"lev":60.5},
{"k":"gray","p":20,"lat":87.7,"lev":43.6},{"k":"gray","p":20,"lat":87.2,"lev":43.3},{"k":"gray","p":20,"lat":86.6,"lev":43.9},{"k":"gray","p":20,"lat":87.0,"lev":44.6},{"k":"gray","p":20,"lat":87.7,"lev":44.5},
{"k":"light","p":21,"lat":54.5,"lev":43.9},{"k":"light","p":21,"lat":53.7,"lev":43.3},{"k":"light","p":21,"lat":52.9,"lev":44.2},{"k":"light","p":21,"lat":54.0,"lev":45.1},{"k":"light","p":21,"lat":54.5,"lev":44.8},
{"k":"white","p":22,"lat":78.1,"lev":51.7},{"k":"white","p":22,"lat":77.2,"lev":51.2},{"k":"white","p":22,"lat":77.1,"lev":52.4},{"k":"white","p":22,"lat":77.8,"lev":52.4},
{"k":"white","p":23,"lat":54.8,"lev":46.1},{"k":"white","p":23,"lat":53.4,"lev":46.0},{"k":"white","p":23,"lat":53.5,"lev":47.9},{"k":"white","p":23,"lat":54.5,"lev":47.9},
{"k":"white","p":24,"lat":75.6,"lev":48.8},{"k":"white","p":24,"lat":75.2,"lev":48.5},{"k":"white","p":24,"lat":74.8,"lev":48.8},{"k":"white","p":24,"lat":75.2,"lev":49.1},
{"k":"light","p":25,"lat":76.9,"lev":49.8},{"k":"light","p":25,"lat":76.4,"lev":49.4},{"k":"light","p":25,"lat":75.9,"lev":49.8},{"k":"light","p":25,"lat":76.4,"lev":50.2},
{"k":"light","p":26,"lat":57.4,"lev":47.8},{"k":"light","p":26,"lat":56.9,"lev":47.6},{"k":"light","p":26,"lat":56.4,"lev":47.8},{"k":"light","p":26,"lat":56.9,"lev":48.0},
{"k":"gray","p":27,"lat":72.0,"lev":51.4},{"k":"gray","p":27,"lat":70.8,"lev":50.1},{"k":"gray","p":27,"lat":69.6,"lev":50.9},{"k":"gray","p":27,"lat":70.3,"lev":53.0},{"k":"gray","p":27,"lat":71.1,"lev":52.6},
{"k":"gray","p":28,"lat":63.9,"lev":50.0},{"k":"gray","p":28,"lat":63.1,"lev":49.3},{"k":"gray","p":28,"lat":62.8,"lev":50.9},{"k":"gray","p":28,"lat":63.5,"lev":50.8},
{"k":"gray","p":29,"lat":54.8,"lev":51.1},{"k":"gray","p":29,"lat":54.4,"lev":49.6},{"k":"gray","p":29,"lat":53.7,"lev":51.1},
{"k":"gray","p":30,"lat":83.0,"lev":50.7},{"k":"gray","p":30,"lat":82.6,"lev":50.4},{"k":"gray","p":30,"lat":82.2,"lev":50.7},{"k":"gray","p":30,"lat":82.6,"lev":51.0},
{"k":"gray","p":31,"lat":66.6,"lev":54.1},{"k":"gray","p":31,"lat":66.1,"lev":53.8},{"k":"gray","p":31,"lat":65.6,"lev":54.1},{"k":"gray","p":31,"lat":66.1,"lev":54.4},
{"k":"gray","p":32,"lat":73.7,"lev":51.8},{"k":"gray","p":32,"lat":73.4,"lev":51.6},{"k":"gray","p":32,"lat":73.1,"lev":51.8},{"k":"gray","p":32,"lat":73.4,"lev":52.0},
{"k":"gray","p":33,"lat":78.6,"lev":55.0},{"k":"gray","p":33,"lat":78.1,"lev":54.3},{"k":"gray","p":33,"lat":77.5,"lev":55.0},{"k":"gray","p":33,"lat":78.1,"lev":55.4},
{"k":"light","p":34,"lat":81.6,"lev":55.3},{"k":"light","p":34,"lat":80.8,"lev":54.5},{"k":"light","p":34,"lat":80.3,"lev":55.4},{"k":"light","p":34,"lat":81.1,"lev":56.6},
{"k":"light","p":35,"lat":83.3,"lev":57.8},{"k":"light","p":35,"lat":82.2,"lev":57.8},{"k":"light","p":35,"lat":82.5,"lev":58.4},{"k":"light","p":35,"lat":83.1,"lev":58.3},
{"k":"light","p":36,"lat":71.1,"lev":56.5},{"k":"light","p":36,"lat":70.6,"lev":56.3},{"k":"light","p":36,"lat":70.3,"lev":57.7},{"k":"light","p":36,"lat":70.9,"lev":57.8},
{"k":"blue","p":37,"lat":68.2,"lev":59.2},{"k":"blue","p":37,"lat":67.7,"lev":58.6},{"k":"blue","p":37,"lat":67.2,"lev":59.2},{"k":"blue","p":37,"lat":67.7,"lev":59.9},
{"k":"blue","p":38,"lat":75.3,"lev":59.8},{"k":"blue","p":38,"lat":74.9,"lev":59.3},{"k":"blue","p":38,"lat":74.5,"lev":59.8},{"k":"blue","p":38,"lat":74.9,"lev":60.5},
{"k":"light","p":39,"lat":91,"lev":52.9},{"k":"light","p":39,"lat":89.7,"lev":53.2},{"k":"light","p":39,"lat":88.6,"lev":55.0},{"k":"light","p":39,"lat":87.2,"lev":55.7},{"k":"light","p":39,"lat":85.8,"lev":55.3},{"k":"light","p":39,"lat":85.1,"lev":56.0},{"k":"light","p":39,"lat":91,"lev":56.0},
{"k":"gray","p":40,"lat":91,"lev":55.5},{"k":"gray","p":40,"lat":88.3,"lev":55.4},{"k":"gray","p":40,"lat":87.2,"lev":56.0},{"k":"gray","p":40,"lat":86.1,"lev":55.3},{"k":"gray","p":40,"lat":84.7,"lev":56.8},{"k":"gray","p":40,"lat":84.4,"lev":58.3},{"k":"gray","p":40,"lat":85.5,"lev":59.5},{"k":"gray","p":40,"lat":86.4,"lev":60.5},{"k":"gray","p":40,"lat":91,"lev":60.5},
{"k":"white","p":41,"lat":91,"lev":56.2},{"k":"white","p":41,"lat":89.4,"lev":55.7},{"k":"white","p":41,"lat":88.0,"lev":56.0},{"k":"white","p":41,"lat":87.6,"lev":58.0},{"k":"white","p":41,"lat":86.9,"lev":57.1},{"k":"white","p":41,"lat":86.4,"lev":56.2},{"k":"white","p":41,"lat":85.4,"lev":57.4},{"k":"white","p":41,"lat":85.8,"lev":58.6},{"k":"white","p":41,"lat":86.4,"lev":60.5},{"k":"white","p":41,"lat":91,"lev":60.5},
{"k":"gray","p":42,"lat":30.7,"lev":40.0},{"k":"gray","p":42,"lat":30.1,"lev":38.9},{"k":"gray","p":42,"lat":29.4,"lev":39.4},{"k":"gray","p":42,"lat":28.8,"lev":40.7},{"k":"gray","p":42,"lat":27.4,"lev":42.2},{"k":"gray","p":42,"lat":29.1,"lev":42.4},{"k":"gray","p":42,"lat":30.5,"lev":41.0},
{"k":"gray","p":43,"lat":41.7,"lev":42.0},{"k":"gray","p":43,"lat":41.0,"lev":41.6},{"k":"gray","p":43,"lat":40.3,"lev":42.0},{"k":"gray","p":43,"lat":41.0,"lev":42.4},
{"k":"gray","p":44,"lat":7.5,"lev":41.8},{"k":"gray","p":44,"lat":6.1,"lev":41.3},{"k":"gray","p":44,"lat":4.7,"lev":41.8},{"k":"gray","p":44,"lat":3.8,"lev":43.7},{"k":"gray","p":44,"lat":4.5,"lev":44.9},{"k":"gray","p":44,"lat":6.4,"lev":44.2},{"k":"gray","p":44,"lat":7.1,"lev":43.0},
{"k":"gray","p":45,"lat":39.3,"lev":48.7},{"k":"gray","p":45,"lat":37.9,"lev":47.9},{"k":"gray","p":45,"lat":37.5,"lev":49.1},{"k":"gray","p":45,"lat":38.5,"lev":49.2},
{"k":"gray","p":46,"lat":33.7,"lev":46.9},{"k":"gray","p":46,"lat":33.1,"lev":46.1},{"k":"gray","p":46,"lat":32.5,"lev":47.0},{"k":"gray","p":46,"lat":33.2,"lev":47.4},
{"k":"light","p":47,"lat":8.9,"lev":44.9},{"k":"light","p":47,"lat":6.9,"lev":46.6},{"k":"light","p":47,"lat":7.2,"lev":47.4},{"k":"light","p":47,"lat":8.3,"lev":47.3},{"k":"light","p":47,"lat":9.2,"lev":45.7},
{"k":"light","p":48,"lat":18.8,"lev":47.9},{"k":"light","p":48,"lat":18.2,"lev":47.55},{"k":"light","p":48,"lat":17.6,"lev":47.9},{"k":"light","p":48,"lat":18.2,"lev":48.25},
{"k":"blue","p":49,"lat":6.9,"lev":51.7},{"k":"blue","p":49,"lat":6.1,"lev":50.4},{"k":"blue","p":49,"lat":5.1,"lev":50.6},{"k":"blue","p":49,"lat":5.6,"lev":52.7},{"k":"blue","p":49,"lat":6.4,"lev":52.6},
{"k":"gray","p":50,"lat":6.8,"lev":54.0},{"k":"gray","p":50,"lat":6.1,"lev":53.55},{"k":"gray","p":50,"lat":5.4,"lev":54.0},{"k":"gray","p":50,"lat":6.1,"lev":54.45},
{"k":"gray","p":51,"lat":22.9,"lev":50.8},{"k":"gray","p":51,"lat":22.6,"lev":50.5},{"k":"gray","p":51,"lat":22.3,"lev":50.8},{"k":"gray","p":51,"lat":22.6,"lev":51.1},
{"k":"light","p":52,"lat":-2.2,"lev":50.6},{"k":"light","p":52,"lat":-4.1,"lev":48.8},{"k":"light","p":52,"lat":-4.9,"lev":49.1},{"k":"light","p":52,"lat":-5.0,"lev":51.7},{"k":"light","p":52,"lat":-4.0,"lev":52.7},{"k":"light","p":52,"lat":-3.0,"lev":52.0},
{"k":"white","p":53,"lat":-20.2,"lev":47.6},{"k":"white","p":53,"lat":-22.1,"lev":46.6},{"k":"white","p":53,"lat":-24.9,"lev":46.4},{"k":"white","p":53,"lat":-25.4,"lev":47.0},{"k":"white","p":53,"lat":-23.5,"lev":47.9},{"k":"white","p":53,"lat":-22.5,"lev":49.8},{"k":"white","p":53,"lat":-21.3,"lev":48.7},
{"k":"white","p":54,"lat":-15.7,"lev":51.1},{"k":"white","p":54,"lat":-16.3,"lev":50.75},{"k":"white","p":54,"lat":-16.9,"lev":51.1},{"k":"white","p":54,"lat":-16.3,"lev":51.45},
{"k":"white","p":55,"lat":-14.7,"lev":52.9},{"k":"white","p":55,"lat":-16.3,"lev":52.4},{"k":"white","p":55,"lat":-17.4,"lev":52.6},{"k":"white","p":55,"lat":-19.4,"lev":52.3},{"k":"white","p":55,"lat":-20.9,"lev":52.9},{"k":"white","p":55,"lat":-18.8,"lev":53.3},{"k":"white","p":55,"lat":-17.8,"lev":54.5},{"k":"white","p":55,"lat":-16.9,"lev":53.6},{"k":"white","p":55,"lat":-15.0,"lev":53.5},
{"k":"white","p":56,"lat":-11.25,"lev":53.8},{"k":"white","p":56,"lat":-11.8,"lev":53.55},{"k":"white","p":56,"lat":-12.35,"lev":53.8},{"k":"white","p":56,"lat":-11.8,"lev":54.05},
{"k":"white","p":57,"lat":-26.4,"lev":48.0},{"k":"white","p":57,"lat":-26.8,"lev":47.7},{"k":"white","p":57,"lat":-27.2,"lev":48.0},{"k":"white","p":57,"lat":-26.8,"lev":48.3},
{"k":"gray","p":58,"lat":-20.9,"lev":44.0},{"k":"gray","p":58,"lat":-21.3,"lev":43.7},{"k":"gray","p":58,"lat":-21.7,"lev":44.0},{"k":"gray","p":58,"lat":-21.3,"lev":44.4},
{"k":"gray","p":59,"lat":-0.8,"lev":55.9},{"k":"gray","p":59,"lat":-1.1,"lev":55.4},{"k":"gray","p":59,"lat":-1.4,"lev":55.9},{"k":"gray","p":59,"lat":-1.1,"lev":56.4},
{"k":"gray","p":60,"lat":-30.8,"lev":52.8},{"k":"gray","p":60,"lat":-31.7,"lev":52.2},{"k":"gray","p":60,"lat":-32.6,"lev":52.8},{"k":"gray","p":60,"lat":-31.7,"lev":53.4},
{"k":"gray","p":61,"lat":-47.3,"lev":44.5},{"k":"gray","p":61,"lat":-47.9,"lev":43.6},{"k":"gray","p":61,"lat":-49.5,"lev":43.9},{"k":"gray","p":61,"lat":-50.6,"lev":45.1},{"k":"gray","p":61,"lat":-50.6,"lev":46.1},{"k":"gray","p":61,"lat":-49.3,"lev":46.2},{"k":"gray","p":61,"lat":-47.6,"lev":45.2},
{"k":"gray","p":62,"lat":-56.65,"lev":46.8},{"k":"gray","p":62,"lat":-57.0,"lev":46.2},{"k":"gray","p":62,"lat":-57.35,"lev":46.8},{"k":"gray","p":62,"lat":-57.0,"lev":47.4},
{"k":"gray","p":63,"lat":-56.2,"lev":49.0},{"k":"gray","p":63,"lat":-57.0,"lev":48.4},{"k":"gray","p":63,"lat":-58.4,"lev":48.2},{"k":"gray","p":63,"lat":-58.3,"lev":48.8},{"k":"gray","p":63,"lat":-57.0,"lev":49.4},
{"k":"gray","p":64,"lat":-62.4,"lev":49.1},{"k":"gray","p":64,"lat":-62.7,"lev":48.7},{"k":"gray","p":64,"lat":-63.0,"lev":49.1},{"k":"gray","p":64,"lat":-62.7,"lev":49.5},
{"k":"gray","p":65,"lat":-64.2,"lev":42.7},{"k":"gray","p":65,"lat":-64.9,"lev":42.3},{"k":"gray","p":65,"lat":-65.1,"lev":43.4},{"k":"gray","p":65,"lat":-64.5,"lev":43.4},
{"k":"gray","p":66,"lat":-84.9,"lev":40.9},{"k":"gray","p":66,"lat":-85.8,"lev":40.7},{"k":"gray","p":66,"lat":-85.9,"lev":41.5},{"k":"gray","p":66,"lat":-85.5,"lev":42.2},{"k":"gray","p":66,"lat":-85.0,"lev":41.6},
{"k":"gray","p":67,"lat":-44.6,"lev":50.2},{"k":"gray","p":67,"lat":-45.9,"lev":49.4},{"k":"gray","p":67,"lat":-47.9,"lev":49.3},{"k":"gray","p":67,"lat":-47.6,"lev":50.6},{"k":"gray","p":67,"lat":-46.2,"lev":51.4},{"k":"gray","p":67,"lat":-44.8,"lev":51.2},
{"k":"white","p":68,"lat":-45.6,"lev":50.1},{"k":"white","p":68,"lat":-46.2,"lev":49.7},{"k":"white","p":68,"lat":-46.8,"lev":50.1},{"k":"white","p":68,"lat":-46.2,"lev":50.5},
{"k":"white","p":69,"lat":-68.2,"lev":50.9},{"k":"white","p":69,"lat":-68.6,"lev":50.4},{"k":"white","p":69,"lat":-69.0,"lev":50.9},{"k":"white","p":69,"lat":-68.6,"lev":51.4},
{"k":"light","p":70,"lat":-77.5,"lev":49.0},{"k":"light","p":70,"lat":-78.2,"lev":48.7},{"k":"light","p":70,"lat":-78.3,"lev":51.2},{"k":"light","p":70,"lat":-77.6,"lev":51.2},
{"k":"white","p":71,"lat":-76.0,"lev":50.8},{"k":"white","p":71,"lat":-76.5,"lev":50.3},{"k":"white","p":71,"lat":-77.0,"lev":50.8},{"k":"white","p":71,"lat":-76.5,"lev":51.3},
{"k":"white","p":72,"lat":-77.2,"lev":54.4},{"k":"white","p":72,"lat":-78.3,"lev":53.7},{"k":"white","p":72,"lat":-79.3,"lev":54.4},{"k":"white","p":72,"lat":-78.8,"lev":55.1},{"k":"white","p":72,"lat":-77.5,"lev":55.1},
{"k":"blue","p":73,"lat":-52.6,"lev":52.9},{"k":"blue","p":73,"lat":-53.0,"lev":52.65},{"k":"blue","p":73,"lat":-53.4,"lev":52.9},{"k":"blue","p":73,"lat":-53.0,"lev":53.15},
{"k":"white","p":74,"lat":-84.4,"lev":46.7},{"k":"white","p":74,"lat":-85.2,"lev":46.0},{"k":"white","p":74,"lat":-86.0,"lev":46.7},{"k":"white","p":74,"lat":-85.8,"lev":47.4},{"k":"white","p":74,"lat":-84.6,"lev":47.4},
{"k":"light","p":75,"lat":-86.3,"lev":48.2},{"k":"light","p":75,"lat":-86.9,"lev":46.1},{"k":"light","p":75,"lat":-87.4,"lev":46.6},{"k":"light","p":75,"lat":-87.4,"lev":47.9},
{"k":"white","p":76,"lat":-86.6,"lev":49.1},{"k":"white","p":76,"lat":-89.6,"lev":48.5},{"k":"white","p":76,"lat":-89.6,"lev":50.8},{"k":"white","p":76,"lat":-87.7,"lev":50.8},{"k":"white","p":76,"lat":-86.6,"lev":50.2},
{"k":"white","p":77,"lat":-89.8,"lev":43.3},{"k":"white","p":77,"lat":-88.5,"lev":44.8},{"k":"white","p":77,"lat":-89.1,"lev":48.1},{"k":"white","p":77,"lat":-89.8,"lev":48.7},{"k":"white","p":77,"lat":-91,"lev":48.7},{"k":"white","p":77,"lat":-91,"lev":43.3},
{"k":"blue","p":78,"lat":-88.0,"lev":52.0},{"k":"blue","p":78,"lat":-89.6,"lev":51.7},{"k":"blue","p":78,"lat":-89.6,"lev":52.4},{"k":"blue","p":78,"lat":-88.2,"lev":52.8},
{"k":"gray","p":79,"lat":-83.0,"lev":56.8},{"k":"gray","p":79,"lat":-83.8,"lev":56.2},{"k":"gray","p":79,"lat":-84.9,"lev":56.8},{"k":"gray","p":79,"lat":-84.4,"lev":57.4},{"k":"gray","p":79,"lat":-83.3,"lev":57.4},
{"k":"white","p":80,"lat":-84.6,"lev":55.7},{"k":"white","p":80,"lat":-86.6,"lev":53.8},{"k":"white","p":80,"lat":-87.7,"lev":53.2},{"k":"white","p":80,"lat":-89.8,"lev":52.4},{"k":"white","p":80,"lat":-91,"lev":52.4},{"k":"white","p":80,"lat":-91,"lev":58.0},{"k":"white","p":80,"lat":-89.8,"lev":57.7},{"k":"white","p":80,"lat":-87.7,"lev":58.0},{"k":"white","p":80,"lat":-85.2,"lev":56.9},
{"k":"blue","p":81,"lat":-83.15,"lev":58.8},{"k":"blue","p":81,"lat":-83.7,"lev":58.45},{"k":"blue","p":81,"lat":-84.25,"lev":58.8},{"k":"blue","p":81,"lat":-83.7,"lev":59.15},
{"k":"blue","p":82,"lat":-77.4,"lev":57.7},{"k":"blue","p":82,"lat":-77.7,"lev":57.45},{"k":"blue","p":82,"lat":-78.0,"lev":57.7},{"k":"blue","p":82,"lat":-77.7,"lev":57.95},
{"k":"blue","p":83,"lat":-76.2,"lev":59.9},{"k":"blue","p":83,"lat":-76.6,"lev":59.5},{"k":"blue","p":83,"lat":-77.0,"lev":59.9},{"k":"blue","p":83,"lat":-76.6,"lev":60.5},
{"k":"gray","p":85,"lat":91,"lev":33.9},{"k":"gray","p":85,"lat":89.4,"lev":34.6},{"k":"gray","p":85,"lat":89.4,"lev":35.4},{"k":"gray","p":85,"lat":91,"lev":36.0},
{"k":"gray","p":86,"lat":91,"lev":23.2},{"k":"gray","p":86,"lat":89.3,"lev":24.5},{"k":"gray","p":86,"lat":89.3,"lev":26.5},{"k":"gray","p":86,"lat":91,"lev":27.0},
{"k":"gray","p":87,"lat":67.8,"lev":29.7},{"k":"gray","p":87,"lat":67.0,"lev":29.5},{"k":"gray","p":87,"lat":65.7,"lev":29.9},{"k":"gray","p":87,"lat":66.7,"lev":30.2},{"k":"gray","p":87,"lat":67.8,"lev":30.1},
{"k":"gray","p":88,"lat":68.1,"lev":32.8},{"k":"gray","p":88,"lat":67.6,"lev":32.4},{"k":"gray","p":88,"lat":66.2,"lev":32.7},{"k":"gray","p":88,"lat":67.0,"lev":33.2},{"k":"gray","p":88,"lat":67.8,"lev":33.4},
{"k":"gray","p":89,"lat":57.9,"lev":30.9},{"k":"gray","p":89,"lat":57.3,"lev":30.4},{"k":"gray","p":89,"lat":56.3,"lev":30.6},{"k":"gray","p":89,"lat":56.3,"lev":31.3},{"k":"gray","p":89,"lat":57.4,"lev":31.3},
{"k":"gray","p":90,"lat":60.5,"lev":32.4},{"k":"gray","p":90,"lat":59.5,"lev":32.0},{"k":"gray","p":90,"lat":58.4,"lev":32.5},{"k":"gray","p":90,"lat":58.3,"lev":33.4},{"k":"gray","p":90,"lat":59.3,"lev":33.4},{"k":"gray","p":90,"lat":60.4,"lev":32.8},
{"k":"gray","p":91,"lat":54.6,"lev":29.9},{"k":"gray","p":91,"lat":53.2,"lev":29.7},{"k":"gray","p":91,"lat":53.6,"lev":30.3},{"k":"gray","p":91,"lat":54.5,"lev":30.3},
{"k":"gray","p":92,"lat":48.5,"lev":31.0},{"k":"gray","p":92,"lat":47.4,"lev":30.7},{"k":"gray","p":92,"lat":47.6,"lev":31.3},{"k":"gray","p":92,"lat":48.1,"lev":31.4},
{"k":"gray","p":93,"lat":44.7,"lev":28.6},{"k":"gray","p":93,"lat":44.3,"lev":27.7},{"k":"gray","p":93,"lat":43.2,"lev":27.6},{"k":"gray","p":93,"lat":40.7,"lev":28.8},{"k":"gray","p":93,"lat":38.8,"lev":28.9},{"k":"gray","p":93,"lat":39.9,"lev":29.7},{"k":"gray","p":93,"lat":40.5,"lev":30.4},{"k":"gray","p":93,"lat":42.1,"lev":30.2},{"k":"gray","p":93,"lat":43.5,"lev":30.6},{"k":"gray","p":93,"lat":44.1,"lev":29.8},
{"k":"gray","p":94,"lat":38.1,"lev":27.6},{"k":"gray","p":94,"lat":37.4,"lev":27.3},{"k":"gray","p":94,"lat":35.5,"lev":27.7},{"k":"gray","p":94,"lat":35.5,"lev":28.2},{"k":"gray","p":94,"lat":37.7,"lev":28.5},{"k":"gray","p":94,"lat":38.1,"lev":28.2},
{"k":"gray","p":95,"lat":41.3,"lev":31.8},{"k":"gray","p":95,"lat":40.6,"lev":31.4},{"k":"gray","p":95,"lat":39.9,"lev":31.9},{"k":"gray","p":95,"lat":40.5,"lev":32.7},{"k":"gray","p":95,"lat":41.0,"lev":32.7},
{"k":"gray","p":96,"lat":36.2,"lev":32.7},{"k":"gray","p":96,"lat":35.8,"lev":32.1},{"k":"gray","p":96,"lat":35.1,"lev":31.9},{"k":"gray","p":96,"lat":35.6,"lev":32.7},{"k":"gray","p":96,"lat":36.0,"lev":32.8},
{"k":"gray","p":97,"lat":33.3,"lev":33.8},{"k":"gray","p":97,"lat":32.7,"lev":33.6},{"k":"gray","p":97,"lat":32.2,"lev":33.9},{"k":"gray","p":97,"lat":32.7,"lev":34.2},
{"k":"gray","p":98,"lat":42.4,"lev":34.8},{"k":"gray","p":98,"lat":41.7,"lev":34.5},{"k":"gray","p":98,"lat":41.3,"lev":35.2},{"k":"gray","p":98,"lat":40.5,"lev":35.7},{"k":"gray","p":98,"lat":40.5,"lev":36.9},{"k":"gray","p":98,"lat":39.9,"lev":37.8},{"k":"gray","p":98,"lat":40.5,"lev":38.3},{"k":"gray","p":98,"lat":41.6,"lev":38.1},{"k":"gray","p":98,"lat":41.6,"lev":36.9},{"k":"gray","p":98,"lat":42.4,"lev":36.0},
{"k":"gray","p":99,"lat":8.1,"lev":25.2},{"k":"gray","p":99,"lat":5.8,"lev":24.5},{"k":"gray","p":99,"lat":4.8,"lev":23.6},{"k":"gray","p":99,"lat":2.5,"lev":23.2},{"k":"gray","p":99,"lat":0.8,"lev":23.8},{"k":"gray","p":99,"lat":0.8,"lev":24.9},{"k":"gray","p":99,"lat":3.0,"lev":25.2},{"k":"gray","p":99,"lat":5.5,"lev":25.4},{"k":"gray","p":99,"lat":7.8,"lev":25.6},
{"k":"gray","p":100,"lat":18.9,"lev":33.9},{"k":"gray","p":100,"lat":16.6,"lev":33.0},{"k":"gray","p":100,"lat":17.4,"lev":31.9},{"k":"gray","p":100,"lat":16.1,"lev":31.6},{"k":"gray","p":100,"lat":13.8,"lev":32.4},{"k":"gray","p":100,"lat":13.0,"lev":33.9},{"k":"gray","p":100,"lat":11.6,"lev":35.0},{"k":"gray","p":100,"lat":14.4,"lev":34.6},{"k":"gray","p":100,"lat":15.8,"lev":34.3},{"k":"gray","p":100,"lat":18.6,"lev":34.3},
{"k":"gray","p":101,"lat":18.3,"lev":35.8},{"k":"gray","p":101,"lat":16.6,"lev":35.8},{"k":"gray","p":101,"lat":16.6,"lev":36.1},{"k":"gray","p":101,"lat":18.3,"lev":36.1},
{"k":"gray","p":102,"lat":15.8,"lev":35.8},{"k":"gray","p":102,"lat":14.8,"lev":35.8},{"k":"gray","p":102,"lat":15.3,"lev":36.2},
{"k":"gray","p":103,"lat":91,"lev":3.3},{"k":"gray","p":103,"lat":88.3,"lev":3.4},{"k":"gray","p":103,"lat":86.9,"lev":4.0},{"k":"gray","p":103,"lat":88.0,"lev":4.5},{"k":"gray","p":103,"lat":91,"lev":4.8},
{"k":"gray","p":104,"lat":84.1,"lev":2.0},{"k":"gray","p":104,"lat":83.0,"lev":1.7},{"k":"gray","p":104,"lat":82.1,"lev":1.9},{"k":"gray","p":104,"lat":82.8,"lev":2.3},{"k":"gray","p":104,"lat":83.9,"lev":2.2},
{"k":"gray","p":105,"lat":80.0,"lev":0.5},{"k":"gray","p":105,"lat":76.7,"lev":0.5},{"k":"gray","p":105,"lat":78.3,"lev":1.3},
{"k":"gray","p":106,"lat":67.6,"lev":0.5},{"k":"gray","p":106,"lat":65.6,"lev":0.5},{"k":"gray","p":106,"lat":66.4,"lev":1.15},
{"k":"gray","p":107,"lat":-89.5,"lev":7.4},{"k":"gray","p":107,"lat":-91,"lev":6.9},{"k":"gray","p":107,"lat":-91,"lev":7.7}
],
"pos":[
{"k":"yellow","p":201,"lat":91,"lev":58.0},{"k":"yellow","p":201,"lat":88.8,"lev":56.2},{"k":"yellow","p":201,"lat":88.0,"lev":57.7},{"k":"yellow","p":201,"lat":88.0,"lev":58.6},{"k":"yellow","p":201,"lat":86.6,"lev":58.3},{"k":"yellow","p":201,"lat":86.4,"lev":56.3},{"k":"yellow","p":201,"lat":85.5,"lev":57.7},{"k":"yellow","p":201,"lat":85.8,"lev":58.9},{"k":"yellow","p":201,"lat":86.4,"lev":60.5},{"k":"yellow","p":201,"lat":91,"lev":60.5},
{"k":"orange","p":202,"lat":89.9,"lev":57.7},{"k":"orange","p":202,"lat":88.8,"lev":56.5},{"k":"orange","p":202,"lat":88.3,"lev":57.8},{"k":"orange","p":202,"lat":89.4,"lev":58.0},
{"k":"orange","p":203,"lat":88.3,"lev":58.9},{"k":"orange","p":203,"lat":85.8,"lev":58.4},{"k":"orange","p":203,"lat":86.6,"lev":60.5},{"k":"orange","p":203,"lat":88.1,"lev":60.5},
{"k":"red","p":204,"lat":87.7,"lev":60.5},{"k":"red","p":204,"lat":87.3,"lev":59.0},{"k":"red","p":204,"lat":86.6,"lev":58.9},{"k":"red","p":204,"lat":87.0,"lev":60.5},
{"k":"white","p":205,"lat":91,"lev":58.6},{"k":"white","p":205,"lat":89.1,"lev":59.2},{"k":"white","p":205,"lat":89.7,"lev":59.8},{"k":"white","p":205,"lat":91,"lev":60.0},
{"k":"yellow","p":206,"lat":-85.5,"lev":55.6},{"k":"yellow","p":206,"lat":-85.8,"lev":54.8},{"k":"yellow","p":206,"lat":-86.6,"lev":53.8},{"k":"yellow","p":206,"lat":-89.6,"lev":52.7},{"k":"yellow","p":206,"lat":-91,"lev":52.5},{"k":"yellow","p":206,"lat":-91,"lev":57.0},{"k":"yellow","p":206,"lat":-89.1,"lev":57.1},{"k":"yellow","p":206,"lat":-87.7,"lev":57.5},{"k":"yellow","p":206,"lat":-86.0,"lev":56.8},
{"k":"orange","p":207,"lat":-86.3,"lev":56.8},{"k":"orange","p":207,"lat":-86.0,"lev":54.7},{"k":"orange","p":207,"lat":-86.6,"lev":54.1},{"k":"orange","p":207,"lat":-89.8,"lev":53.0},{"k":"orange","p":207,"lat":-91,"lev":53.0},{"k":"orange","p":207,"lat":-91,"lev":56.0},{"k":"orange","p":207,"lat":-88.8,"lev":55.9},{"k":"orange","p":207,"lat":-88.2,"lev":57.1},{"k":"orange","p":207,"lat":-87.1,"lev":57.2},
{"k":"red","p":208,"lat":-86.3,"lev":56.8},{"k":"red","p":208,"lat":-87.4,"lev":55.8},{"k":"red","p":208,"lat":-88.5,"lev":56.8},{"k":"red","p":208,"lat":-88.2,"lev":57.2},{"k":"red","p":208,"lat":-86.9,"lev":57.1},
{"k":"red","p":209,"lat":-89.1,"lev":53.8},{"k":"red","p":209,"lat":-91,"lev":53.3},{"k":"red","p":209,"lat":-91,"lev":55.0},{"k":"red","p":209,"lat":-89.2,"lev":54.7},
{"k":"brown","p":210,"lat":-89,"lev":60.0},{"k":"brown","p":210,"lat":-91,"lev":59.4},{"k":"brown","p":210,"lat":-91,"lev":60.5},{"k":"brown","p":210,"lat":-88,"lev":60.5},
{"k":"yellow","p":211,"lat":-83.5,"lev":56.9},{"k":"yellow","p":211,"lat":-83.8,"lev":56.6},{"k":"yellow","p":211,"lat":-84.1,"lev":56.9},{"k":"yellow","p":211,"lat":-83.8,"lev":57.2},
{"k":"yellow","p":212,"lat":-91,"lev":44.3},{"k":"yellow","p":212,"lat":-89.3,"lev":45.4},{"k":"yellow","p":212,"lat":-89.2,"lev":49.0},{"k":"yellow","p":212,"lat":-91,"lev":49.2},
{"k":"yellow","p":213,"lat":88.0,"lev":30.3},{"k":"yellow","p":213,"lat":87.5,"lev":29.9},{"k":"yellow","p":213,"lat":85.8,"lev":29.7},{"k":"yellow","p":213,"lat":85.5,"lev":30.1},{"k":"yellow","p":213,"lat":86.9,"lev":30.6},{"k":"yellow","p":213,"lat":86.8,"lev":32.1},{"k":"yellow","p":213,"lat":85.0,"lev":33.1},{"k":"yellow","p":213,"lat":84.8,"lev":33.6},{"k":"yellow","p":213,"lat":85.6,"lev":34.5},{"k":"yellow","p":213,"lat":86.4,"lev":33.6},{"k":"yellow","p":213,"lat":87.7,"lev":33.0},{"k":"yellow","p":213,"lat":88.0,"lev":31.8},{"k":"yellow","p":213,"lat":87.8,"lev":31.0},
{"k":"yellow","p":214,"lat":91,"lev":32.1},{"k":"yellow","p":214,"lat":89.4,"lev":32.4},{"k":"yellow","p":214,"lat":89.5,"lev":32.8},{"k":"yellow","p":214,"lat":91,"lev":33.1},
{"k":"yellow","p":215,"lat":91,"lev":0.5},{"k":"yellow","p":215,"lat":83.6,"lev":0.5},{"k":"yellow","p":215,"lat":87.5,"lev":1.5},{"k":"yellow","p":215,"lat":88.6,"lev":1.9},{"k":"yellow","p":215,"lat":91,"lev":2.0},
{"k":"orange","p":216,"lat":91,"lev":0.5},{"k":"orange","p":216,"lat":85.8,"lev":0.5},{"k":"orange","p":216,"lat":88.3,"lev":1.4},{"k":"orange","p":216,"lat":91,"lev":1.5},
{"k":"yellow","p":217,"lat":91,"lev":10.8},{"k":"yellow","p":217,"lat":89.3,"lev":10.9},{"k":"yellow","p":217,"lat":89.3,"lev":11.6},{"k":"yellow","p":217,"lat":91,"lev":12.2},
{"k":"yellow","p":218,"lat":-88.3,"lev":5.57},{"k":"yellow","p":218,"lat":-88.8,"lev":5.36},{"k":"yellow","p":218,"lat":-91,"lev":5.36},{"k":"yellow","p":218,"lat":-91,"lev":5.96},{"k":"yellow","p":218,"lat":-88.8,"lev":5.96},
{"k":"yellow","p":219,"lat":-88.9,"lev":31.9},{"k":"yellow","p":219,"lat":-91,"lev":31.9},{"k":"yellow","p":219,"lat":-91,"lev":33.2},{"k":"yellow","p":219,"lat":-89.8,"lev":33.2},
{"k":"yellow","p":220,"lat":60.0,"lev":43.9},{"k":"yellow","p":220,"lat":60.3,"lev":43.4},{"k":"yellow","p":220,"lat":60.6,"lev":43.9},{"k":"yellow","p":220,"lat":60.3,"lev":44.4},
{"k":"yellow","p":221,"lat":61.7,"lev":46.8},{"k":"yellow","p":221,"lat":61.2,"lev":46.2},{"k":"yellow","p":221,"lat":60.8,"lev":46.8},{"k":"yellow","p":221,"lat":61.3,"lev":47.3},
{"k":"yellow","p":222,"lat":35.35,"lev":43.0},{"k":"yellow","p":222,"lat":35.1,"lev":42.7},{"k":"yellow","p":222,"lat":34.85,"lev":43.0},{"k":"yellow","p":222,"lat":35.1,"lev":43.3},
{"k":"yellow","p":223,"lat":-58.8,"lev":49.9},{"k":"yellow","p":223,"lat":-60.9,"lev":49.6},{"k":"yellow","p":223,"lat":-61.1,"lev":49.9},{"k":"yellow","p":223,"lat":-59.8,"lev":50.3}
]},
"hconcat":[
{"width":1084,"height":658,"layer":[
{"data":{"name":"neg"},"mark":{"type":"line","order":false,"clip":true,"interpolate":"cardinal-closed","tension":0.35,"stroke":"black","strokeWidth":1.3,"strokeDash":[4,2]},"encoding":{"x":{"field":"lat","type":"quantitative","scale":{"domain":[90,-90],"nice":false,"zero":false},"axis":{"values":[80,60,40,20,0,-20,-40,-60,-80],"labelExpr":"datum.value>0?datum.value+'N':datum.value<0?(-datum.value)+'S':'0'","title":null,"grid":false,"domain":false,"tickColor":"black","tickSize":5,"tickWidth":1.5,"labelFont":"Liberation Sans","labelFontWeight":"bold","labelFontSize":21,"labelColor":"#000000","labelPadding":16,"labelFlush":false}},"y":{"field":"lev","type":"quantitative","scale":{"domain":[1,60],"nice":false,"zero":false,"reverse":true},"axis":{"values":[10,20,30,40,50,60],"title":null,"grid":false,"domain":false,"tickColor":"black","tickSize":6,"tickWidth":1.5,"labelFont":"Liberation Sans","labelFontWeight":"bold","labelFontSize":24,"labelColor":"#000000","labelPadding":8,"labelFlush":false}},"fill":{"field":"k","type":"nominal","legend":null,"scale":{"domain":["white","gray","light","blue","violet","navy","black","yellow","orange","red","darkred","brown"],"range":["#ffffff","#b2b2b2","#74a5ff","#0080ff","#2800ff","#000060","#000000","#ffff00","#ff8000","#ff0000","#9c1006","#660f00"]}},"detail":{"field":"p","type":"nominal"}}},
{"data":{"name":"pos"},"mark":{"type":"line","order":false,"clip":true,"interpolate":"cardinal-closed","tension":0.35,"stroke":"black","strokeWidth":1.3},"encoding":{"x":{"field":"lat","type":"quantitative"},"y":{"field":"lev","type":"quantitative"},"fill":{"field":"k","type":"nominal","legend":null},"detail":{"field":"p","type":"nominal"}}},
{"data":{"name":"frame"},"mark":{"type":"rect","fill":null,"stroke":"black","strokeWidth":2.2},"encoding":{"x":{"field":"a","type":"quantitative"},"x2":{"field":"b"},"y":{"field":"c","type":"quantitative"},"y2":{"field":"d"}}}
]},
{"width":28,"height":658,"view":{"stroke":null},"layer":[
{"data":{"name":"bar"},"mark":{"type":"rect"},"encoding":{"y":{"field":"y0","type":"quantitative","scale":{"domain":[-0.238,11.81],"nice":false,"zero":false,"reverse":true},"axis":null},"y2":{"field":"y1"},"fill":{"field":"k","type":"nominal","legend":null,"scale":{"domain":["white","gray","light","blue","violet","navy","black","yellow","orange","red","darkred","brown"],"range":["#ffffff","#b2b2b2","#74a5ff","#0080ff","#2800ff","#000060","#000000","#ffff00","#ff8000","#ff0000","#9c1006","#660f00"]}}}},
{"data":{"name":"barlabels"},"mark":{"type":"text","align":"left","baseline":"middle","font":"Liberation Serif","fontSize":23,"dx":4,"color":"#111111"},"encoding":{"x":{"datum":1,"type":"quantitative","scale":{"domain":[0,1],"nice":false},"axis":null},"y":{"field":"pos","type":"quantitative"},"text":{"field":"t","type":"nominal"}}}
]}
],
"config":{"view":{"stroke":null}}
}
